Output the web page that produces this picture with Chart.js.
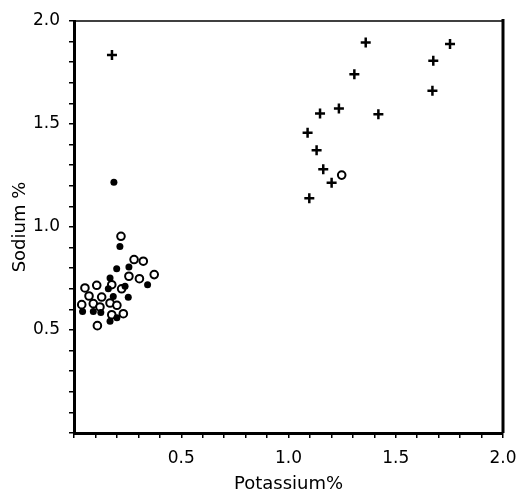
<!DOCTYPE html>
<html>
<head>
<meta charset="utf-8">
<script src="https://cdn.jsdelivr.net/npm/chart.js@4"></script>
<style>
  html, body { margin: 0; padding: 0; background: #fff; }
  #wrap { width: 523px; height: 499px; }
</style>
</head>
<body>
<div id="wrap"><canvas id="chart" width="523" height="499"></canvas></div>
<script>
// values (Potassium %, Sodium %)
const crossK  = [0.177, 1.36, 1.753, 1.675, 1.307, 1.671, 1.147, 1.235, 1.419, 1.089, 1.131, 1.162, 1.201, 1.097];
const crossNa = [1.835, 1.896, 1.888, 1.807, 1.742, 1.661, 1.551, 1.575, 1.547, 1.458, 1.372, 1.280, 1.215, 1.139];

const filledK  = [0.186, 0.214, 0.256, 0.199, 0.343, 0.238, 0.253, 0.183, 0.168, 0.160, 0.040, 0.090, 0.168, 0.125, 0.200];
const filledNa = [1.217, 0.905, 0.806, 0.797, 0.720, 0.712, 0.659, 0.663, 0.753, 0.700, 0.590, 0.590, 0.542, 0.585, 0.560];

const openK  = [0.219, 0.280, 0.323, 0.374, 0.305, 0.256, 0.176, 0.222, 0.051, 0.106, 0.129, 0.070, 0.036, 0.090, 0.121, 0.168, 0.176, 0.230, 0.109, 0.200, 1.248];
const openNa = [0.955, 0.842, 0.834, 0.769, 0.749, 0.761, 0.720, 0.700, 0.704, 0.717, 0.660, 0.665, 0.623, 0.628, 0.612, 0.631, 0.574, 0.579, 0.521, 0.620, 1.252];

const tickLabels = ['0.5', '1.0', '1.5', '2.0'];

function pts(xs, ys) {
  return xs.map((x, i) => ({ x: x, y: ys[i] }));
}

function tickCb(value) {
  const s = value.toFixed(1);
  return tickLabels.includes(s) ? s : '';
}

// top + right frame of the plot box
const frame = {
  id: 'frame',
  afterDraw(chart) {
    const a = chart.chartArea;
    const ctx = chart.ctx;
    ctx.save();
    ctx.strokeStyle = '#000';
    ctx.lineWidth = 1.5;
    ctx.beginPath();
    ctx.moveTo(a.left, a.top);
    ctx.lineTo(a.right, a.top);
    ctx.stroke();
    ctx.lineWidth = 3;
    ctx.beginPath();
    ctx.moveTo(a.right, a.top - 2);
    ctx.lineTo(a.right, a.bottom);
    ctx.stroke();
    ctx.restore();
  }
};

const font = { family: 'DejaVu Sans', size: 17 };

new Chart(document.getElementById('chart').getContext('2d'), {
  type: 'scatter',
  data: {
    datasets: [
      {
        label: 'cross',
        data: pts(crossK, crossNa),
        pointStyle: 'cross',
        radius: 5,
        borderWidth: 2.5,
        borderColor: '#000',
        backgroundColor: '#000'
      },
      {
        label: 'filled',
        data: pts(filledK, filledNa),
        pointStyle: 'circle',
        radius: 3.5,
        borderWidth: 0,
        backgroundColor: '#000'
      },
      {
        label: 'open',
        data: pts(openK, openNa),
        pointStyle: 'circle',
        radius: 3.8,
        borderWidth: 2,
        borderColor: '#000',
        backgroundColor: '#fff'
      }
    ]
  },
  options: {
    responsive: false,
    animation: false,
    layout: { padding: { top: 21, right: 20, left: 0, bottom: 0 } },
    plugins: { legend: { display: false }, tooltip: { enabled: false } },
    scales: {
      x: {
        type: 'linear',
        min: 0,
        max: 2.0,
        afterFit(s) { s.height = 66; s.paddingRight = 0; },
        ticks: { stepSize: 0.1, autoSkip: false, maxRotation: 0, color: '#000', font, padding: 10, callback: tickCb },
        grid: { drawOnChartArea: false, tickLength: 5, color: '#000', lineWidth: 1.5 },
        border: { color: '#000', width: 3 },
        title: { display: true, text: 'Potassium%', color: '#000', font: { family: 'DejaVu Sans', size: 18 }, padding: { top: 6 } }
      },
      y: {
        type: 'linear',
        min: 0,
        max: 2.0,
        afterFit(s) { s.width = 74; },
        ticks: { stepSize: 0.1, autoSkip: false, color: '#000', font, padding: 9, callback: tickCb },
        grid: { drawOnChartArea: false, tickLength: 5, color: '#000', lineWidth: 1.5 },
        border: { color: '#000', width: 3 },
        title: { display: true, text: 'Sodium %', color: '#000', font: { family: 'DejaVu Sans', size: 18 }, padding: { top: 10, bottom: 0 } }
      }
    }
  },
  plugins: [frame]
});
</script>
</body>
</html>
